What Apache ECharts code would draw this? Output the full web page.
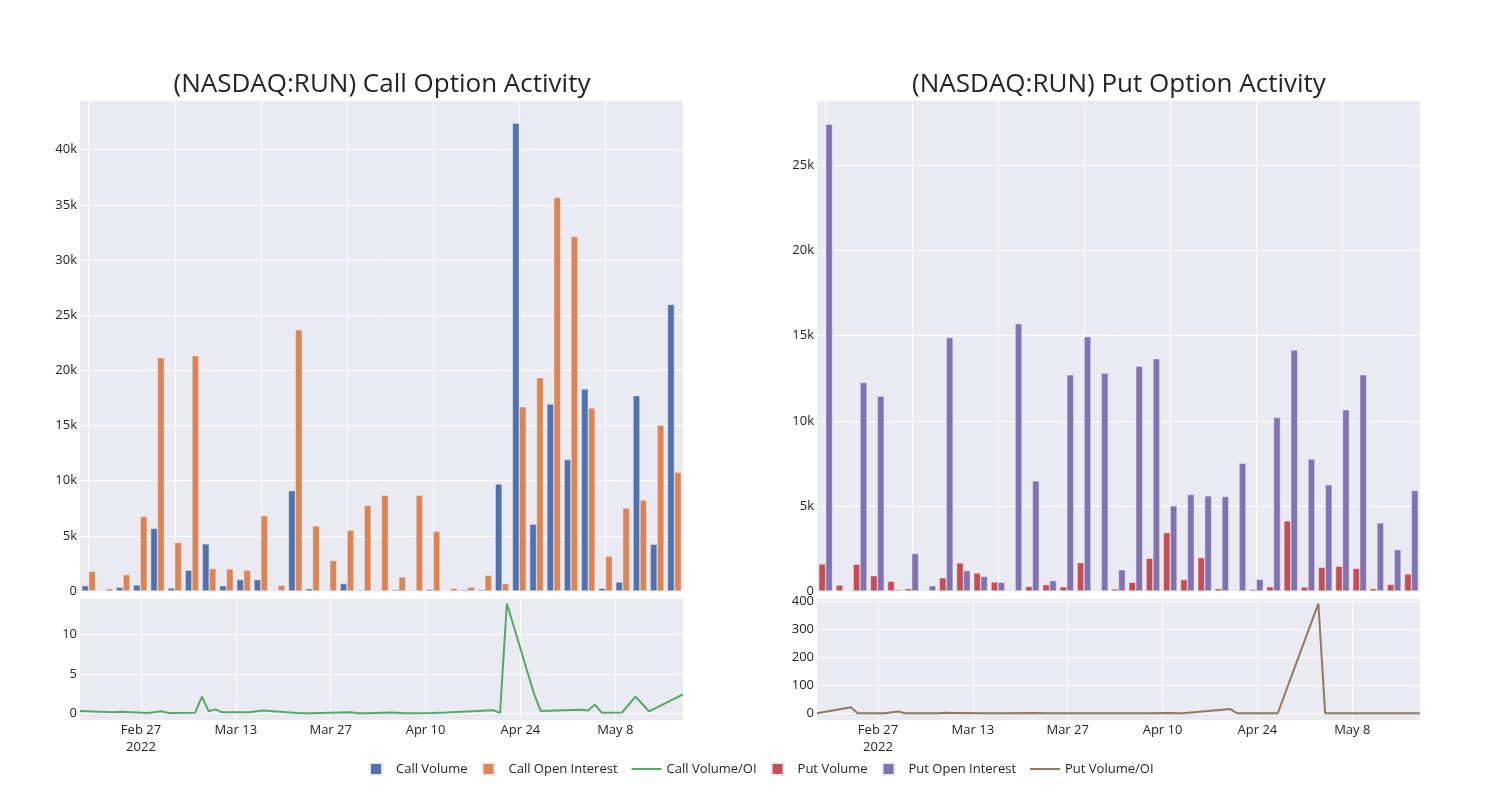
<!DOCTYPE html>
<html><head><meta charset="utf-8">
<script src="https://cdn.jsdelivr.net/npm/echarts@6/dist/echarts.min.js"></script>
<style>html,body{margin:0;padding:0;background:#fff}#c{width:1500px;height:800px}</style>
</head><body><div id="c"></div>
<script>
const dates = ['2022-02-18','2022-02-23','2022-02-24','2022-02-28','2022-03-02','2022-03-03','2022-03-07','2022-03-08','2022-03-09','2022-03-10','2022-03-11','2022-03-15','2022-03-17','2022-03-22','2022-03-24','2022-03-30','2022-03-31','2022-04-01','2022-04-05','2022-04-07','2022-04-11','2022-04-13','2022-04-20','2022-04-21','2022-04-22','2022-04-26','2022-04-27','2022-05-03','2022-05-04','2022-05-05','2022-05-06','2022-05-09','2022-05-11','2022-05-13','2022-05-18'];
const callVolume = [480,30,330,550,5670,270,1880,4270,480,1030,1030,60,9090,210,20,670,90,30,120,60,150,30,120,120,9700,42400,6060,16940,11910,18300,240,820,17700,4240,25970];
const callOI = [1790,210,1480,6760,21150,4390,21330,2030,2000,1880,6820,520,23670,5910,2760,5520,7760,8670,1270,8670,5420,240,360,1420,670,16700,19330,35670,32120,16580,3150,7520,8240,15030,10760];
const callRatio = [0.3,0.14,0.2,0.05,0.26,0.05,0.08,2.1,0.26,0.5,0.12,0.12,0.35,0.05,0.02,0.12,0.01,0.01,0.09,0.01,0.04,0.1,0.38,0.06,13.9,2.5,0.3,0.45,0.35,1.1,0.08,0.1,2.1,0.25,2.4];
const putVolume = [1590,350,1570,900,570,140,20,780,1650,1060,530,0,270,370,250,1670,20,120,510,1920,3430,670,1960,140,40,100,250,4120,240,1390,1450,1330,140,390,1000];
const putOI = [27430,20,12250,11450,80,2200,310,14900,1200,860,510,15700,6470,610,12700,14940,12800,1250,13200,13650,5000,5670,5590,5550,7510,690,10200,14160,7750,6240,10650,12700,4000,2430,5900];
const putRatio = [0.06,21,0.13,0.08,6,0.06,0.06,0.05,1.4,1.2,1.0,0,0.04,0.6,0.02,0.11,0,0.1,0.04,0.14,0.69,0.12,15,0.03,0.01,0.14,0.02,390,0.03,0.22,0.14,0.1,0.04,0.16,0.17];
const axisStart = '2022-02-18', axisEnd = '2022-05-18';
const dateTicks = ['2022-02-27','2022-03-13','2022-03-27','2022-04-10','2022-04-24','2022-05-08'];
const dateTickLabels = ['Feb 27\n2022','Mar 13','Mar 27','Apr 10','Apr 24','May 8'];
const titles = ['(NASDAQ:RUN) Call Option Activity','(NASDAQ:RUN) Put Option Activity'];

// daily category scaffold for the date axis
const days = [];
for (let t = Date.parse(axisStart + 'T00:00:00Z'); t <= Date.parse(axisEnd + 'T00:00:00Z'); t += 86400000) {
  days.push(new Date(t).toISOString().slice(0, 10));
}

const FONT = 'Open Sans';
const TXT = '#242424';
const BG = '#EAEAF2';
const FS = 13;
const C = {cv:'#4C72B0', coi:'#DD8452', cr:'#55A868', pv:'#C44E52', poi:'#8172B3', pr:'#937860'};
const kfmt = v => v === 0 ? '0' : (v / 1000) + 'k';
const isTick = (i, v) => dateTicks.indexOf(v) >= 0;

const gridDefs = [
  {left: 80, top: 100, width: 603, height: 491},
  {left: 80, top: 598, width: 603, height: 122},
  {left: 817, top: 100, width: 603, height: 491},
  {left: 817, top: 598, width: 603, height: 122}
];

function barX(gi) {
  return {type: 'category', gridIndex: gi, data: dates, boundaryGap: true,
    axisLine: {show: false}, axisTick: {show: false}, axisLabel: {show: false},
    splitLine: {show: true, interval: 4, alignWithLabel: true, lineStyle: {color: '#fff', width: 1}}};
}
function dayX(gi) {
  return {type: 'category', gridIndex: gi, data: days, boundaryGap: false,
    axisLine: {show: false}, axisTick: {show: false},
    axisLabel: {interval: isTick, formatter: v => dateTickLabels[dateTicks.indexOf(v)] || '',
      color: TXT, fontFamily: FONT, fontSize: FS, margin: 2, lineHeight: 17},
    splitLine: {show: true, interval: isTick, lineStyle: {color: '#fff', width: 1}}};
}
function yLab(extra) {
  return Object.assign({color: TXT, fontFamily: FONT, fontSize: FS, margin: 3, showMaxLabel: false}, extra);
}
function valY(gi, extra) {
  return Object.assign({type: 'value', gridIndex: gi,
    axisLine: {show: false}, axisTick: {show: false},
    splitLine: {show: true, lineStyle: {color: '#fff', width: 1}}}, extra);
}
function bar(name, xi, data, color) {
  return {name, type: 'bar', xAxisIndex: xi, yAxisIndex: xi, data,
    barCategoryGap: '20%', barGap: '0%',
    itemStyle: {color, borderColor: BG, borderWidth: 0.5}};
}
function line(name, xi, data, color) {
  return {name, type: 'line', xAxisIndex: xi, yAxisIndex: xi,
    data: dates.map((d, i) => [d, data[i]]),
    symbol: 'none', showSymbol: false, lineStyle: {color, width: 2}, itemStyle: {color}};
}

const sq = 'path://M0,0H10V10H0Z';
const ln = 'path://M0,0H30V2H0Z';
const chart = echarts.init(document.getElementById('c'), null, {renderer: 'canvas'});
chart.setOption({
  animation: false,
  backgroundColor: '#fff',
  title: [
    {text: titles[0], left: 377, textAlign: 'center', top: 67, textStyle: {fontFamily: FONT, fontSize: 26, fontWeight: 'normal', color: TXT}},
    {text: titles[1], left: 1114, textAlign: 'center', top: 67, textStyle: {fontFamily: FONT, fontSize: 26, fontWeight: 'normal', color: TXT}}
  ],
  grid: gridDefs.map(g => Object.assign({show: true, backgroundColor: BG, borderWidth: 0, containLabel: false}, g)),
  xAxis: [barX(0), dayX(1), barX(2), dayX(3)],
  yAxis: [
    valY(0, {min: 0, max: 44500, interval: 5000, axisLabel: yLab({formatter: kfmt})}),
    valY(1, {min: -0.85, max: 14.6, splitNumber: 3, axisLabel: yLab({showMinLabel: false})}),
    valY(2, {min: 0, max: 28850, interval: 5000, axisLabel: yLab({formatter: kfmt})}),
    valY(3, {min: -24, max: 410, splitNumber: 4, axisLabel: yLab({showMinLabel: false})})
  ],
  legend: {
    top: 757, left: 364, itemWidth: 30, itemHeight: 12, itemGap: 14,
    textStyle: {fontFamily: FONT, fontSize: FS, color: TXT},
    data: [
      {name: 'Call Volume', icon: sq}, {name: 'Call Open Interest', icon: sq}, {name: 'Call Volume/OI', icon: ln},
      {name: 'Put Volume', icon: sq}, {name: 'Put Open Interest', icon: sq}, {name: 'Put Volume/OI', icon: ln}
    ]
  },
  series: [
    bar('Call Volume', 0, callVolume, C.cv),
    bar('Call Open Interest', 0, callOI, C.coi),
    line('Call Volume/OI', 1, callRatio, C.cr),
    bar('Put Volume', 2, putVolume, C.pv),
    bar('Put Open Interest', 2, putOI, C.poi),
    line('Put Volume/OI', 3, putRatio, C.pr)
  ]
});
</script></body></html>
